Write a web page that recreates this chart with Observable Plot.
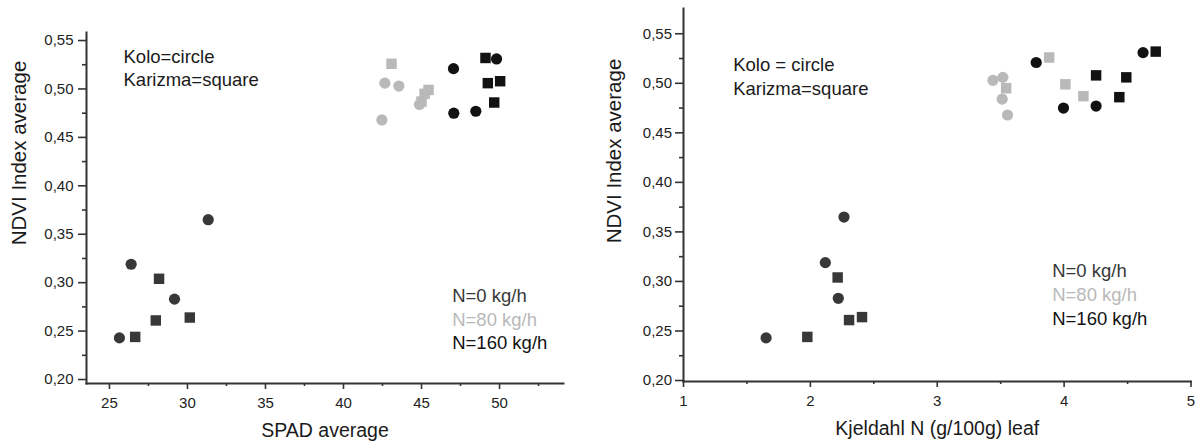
<!DOCTYPE html>
<html>
<head>
<meta charset="utf-8">
<script src="https://cdn.jsdelivr.net/npm/d3@7"></script>
<script src="https://cdn.jsdelivr.net/npm/@observablehq/plot@0.6"></script>
<style>
  html, body { margin: 0; padding: 0; background: #fff; }
  #wrap { position: relative; width: 1196px; height: 445px; overflow: hidden; background: #fff; }
  #wrap > div, #wrap > svg { position: absolute; top: 0; }
</style>
</head>
<body>
<div id="wrap"></div>
<script>
// ---- data ----
const nRate   = [0,0,0,0, 0,0,0,0, 80,80,80,80, 80,80,80,80, 160,160,160,160, 160,160,160,160];
const variety = ["Kolo","Kolo","Kolo","Kolo","Karizma","Karizma","Karizma","Karizma",
                 "Kolo","Kolo","Kolo","Kolo","Karizma","Karizma","Karizma","Karizma",
                 "Kolo","Kolo","Kolo","Kolo","Karizma","Karizma","Karizma","Karizma"];
const ndvi    = [0.365,0.319,0.283,0.243, 0.304,0.264,0.261,0.244,
                 0.506,0.503,0.484,0.468, 0.526,0.499,0.495,0.487,
                 0.531,0.521,0.477,0.475, 0.532,0.508,0.506,0.486];
const spad    = [31.33,26.39,29.17,25.64, 28.18,30.15,27.97,26.65,
                 42.65,43.55,44.87,42.46, 43.08,45.45,45.20,45.00,
                 49.81,47.05,48.48,47.07, 49.10,50.04,49.25,49.66];
const kjeldahl= [2.265,2.118,2.220,1.651, 2.215,2.407,2.305,1.976,
                 3.517,3.439,3.512,3.554, 3.882,4.010,3.543,4.152,
                 4.622,3.780,4.252,3.995, 4.722,4.252,4.490,4.435];

const nLevels = [0, 80, 160];
const nLabels = ["N=0 kg/h", "N=80 kg/h", "N=160 kg/h"];
const nColors = ["#383838", "#b9b9b9", "#121212"];

const yTicks = [0.20, 0.25, 0.30, 0.35, 0.40, 0.45, 0.50, 0.55];
const yMinor = [0.225, 0.275, 0.325, 0.375, 0.425, 0.475, 0.525];
const spadTicks = [25, 30, 35, 40, 45, 50];
const spadMinor = [27.5, 32.5, 37.5, 42.5, 47.5, 52.5];
const kjTicks = [1, 2, 3, 4, 5];
const kjMinor = [1.5, 2.5, 3.5, 4.5];

// ---- build table ----
const samples = ndvi.map((v, i) => ({ndvi: v, spad: spad[i], kj: kjeldahl[i], variety: variety[i], n: nRate[i]}));
const fmtY = d => d.toFixed(2).replace(".", ",");
const fmtX = d => String(d);
const FONT = "'Liberation Sans', Arial, Helvetica, sans-serif";
const AX = "#333";

function panel({xField, xDomain, yDomain, width, mL, mR, mT, mB, xTicks, xMinor, xPad, yPad, xTitle, xTitleDy,
                yTitleDx, yTitleDy, keyText, keyDx, keyDy, keyLH, legDx, legDy, legStep}) {
  const marks = [
    Plot.frame({anchor: "left", stroke: AX, strokeWidth: 2}),
    Plot.frame({anchor: "bottom", stroke: AX, strokeWidth: 2}),
    Plot.axisY({ticks: yTicks, tickSize: 8, tickPadding: yPad, tickFormat: fmtY, fontSize: 15, label: null, stroke: AX, strokeWidth: 1.6}),
    Plot.axisY({ticks: yMinor, tickSize: 4, tickFormat: () => "", label: null, stroke: AX, strokeWidth: 1.6}),
    Plot.axisX({ticks: xTicks, tickSize: 6, tickPadding: xPad, tickFormat: fmtX, fontSize: 15, label: null, stroke: AX, strokeWidth: 1.6}),
    Plot.axisX({ticks: xMinor, tickSize: 3, tickFormat: () => "", label: null, stroke: AX, strokeWidth: 1.6}),
    Plot.dot(samples.filter(d => d.variety === "Karizma"), {x: xField, y: "ndvi", fill: "n", symbol: "square", r: 5.9, stroke: "none"}),
    Plot.dot(samples.filter(d => d.variety === "Kolo"), {x: xField, y: "ndvi", fill: "n", symbol: "circle", r: 5.6, stroke: "none"}),
    Plot.text([xTitle], {frameAnchor: "bottom", dy: xTitleDy, lineAnchor: "top", textAnchor: "middle", fontSize: 19.5, fill: "#1a1a1a"}),
    Plot.text(["NDVI Index average"], {frameAnchor: "left", rotate: -90, dx: yTitleDx, dy: yTitleDy, textAnchor: "middle", lineAnchor: "middle", fontSize: 20.5, fill: "#1a1a1a"}),
    Plot.text([keyText], {frameAnchor: "top-left", dx: keyDx, dy: keyDy, lineAnchor: "top", textAnchor: "start", fontSize: 18.5, lineHeight: keyLH, fill: "#1a1a1a"}),
    ...nLabels.map((lab, i) => Plot.text([lab], {frameAnchor: "top-left", dx: legDx, dy: legDy + i * legStep, lineAnchor: "top", textAnchor: "start", fontSize: 18.5, fill: nColors[i]}))
  ];
  return Plot.plot({
    width, height: 445,
    marginLeft: mL, marginRight: mR, marginTop: mT, marginBottom: mB,
    x: {domain: xDomain},
    y: {domain: yDomain},
    color: {type: "ordinal", domain: nLevels, range: nColors},
    style: {fontFamily: FONT, color: "#222", background: "transparent", overflow: "visible"},
    marks
  });
}

const left = panel({
  xField: "spad", xDomain: [23.53, 54.1], yDomain: [0.1959, 0.5583],
  width: 590, mL: 86, mR: 27, mT: 32, mB: 62,
  xTicks: spadTicks, xMinor: spadMinor, xPad: 7.5, yPad: 5,
  xTitle: "SPAD average", xTitleDy: 39.5,
  yTitleDx: -67, yTitleDy: -55,
  keyText: "Kolo=circle\nKarizma=square", keyDx: 37, keyDy: 14, keyLH: 1.24,
  legDx: 365.7, legDy: 256.6, legStep: 23.3
});
left.style.left = "0px";

const right = panel({
  xField: "kj", xDomain: [1, 5], yDomain: [0.199, 0.5755],
  width: 606, mL: 93, mR: 5.5, mT: 8, mB: 64,
  xTicks: kjTicks, xMinor: kjMinor, xPad: 8, yPad: 3.5,
  xTitle: "Kjeldahl N (g/100g) leaf", xTitleDy: 40,
  yTitleDx: -69, yTitleDy: -44,
  keyText: "Kolo = circle\nKarizma=square", keyDx: 49.7, keyDy: 45.6, keyLH: 1.29,
  legDx: 368.7, legDy: 254.9, legStep: 24
});
right.style.left = "590px";

const wrap = document.getElementById("wrap");
wrap.appendChild(left);
wrap.appendChild(right);
</script>
</body>
</html>
